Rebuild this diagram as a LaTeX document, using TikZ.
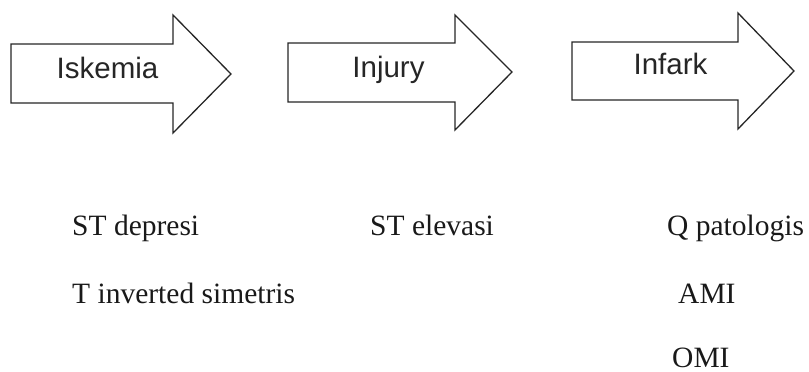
\documentclass[tikz,border=0pt]{standalone}
\usepackage{fontspec}
\setmainfont{Liberation Serif}
\newfontfamily\arialfont{Liberation Sans}
\begin{document}
\begin{tikzpicture}[x=1pt,y=-1pt,
  blockarrow/.style={draw=black!85, line width=1.3pt, line join=miter, fill=white},
  arrowlabel/.style={anchor=base, inner sep=0pt, text=black!85, font=\arialfont\fontsize{29.5}{35}\selectfont},
  ecglabel/.style={anchor=base west, inner sep=0pt, text=black!90, font=\fontsize{29.5}{35}\selectfont}]
\useasboundingbox (0,0) rectangle (809,372);
% block arrows
\draw[blockarrow] (11,44) -- (173,44) -- (173,15) -- (231,74) -- (173,133) -- (173,103) -- (11,103) -- cycle;
\draw[blockarrow] (288,43) -- (455,43) -- (455,15) -- (512,72) -- (455,130) -- (455,102) -- (288,102) -- cycle;
\draw[blockarrow] (572,42) -- (738,42) -- (738,13) -- (794,71) -- (738,129) -- (738,100) -- (572,100) -- cycle;
% arrow labels
\node[arrowlabel] (isk) at (107.5,78) {Iskemia};
\node[arrowlabel] (inj) at (388.5,77) {Injury};
\node[arrowlabel] (inf) at (670.5,74) {Infark};
% ECG findings
\node[ecglabel] (std) at (72,235) {ST depresi};
\node[ecglabel] (ste) at (370,235) {ST elevasi};
\node[ecglabel] (qp) at (667,235) {Q patologis};
\node[ecglabel] (tinv) at (72,303) {T inverted simetris};
\node[ecglabel] (ami) at (678,303) {AMI};
\node[ecglabel] (omi) at (672,367) {OMI};
\end{tikzpicture}
\end{document}
